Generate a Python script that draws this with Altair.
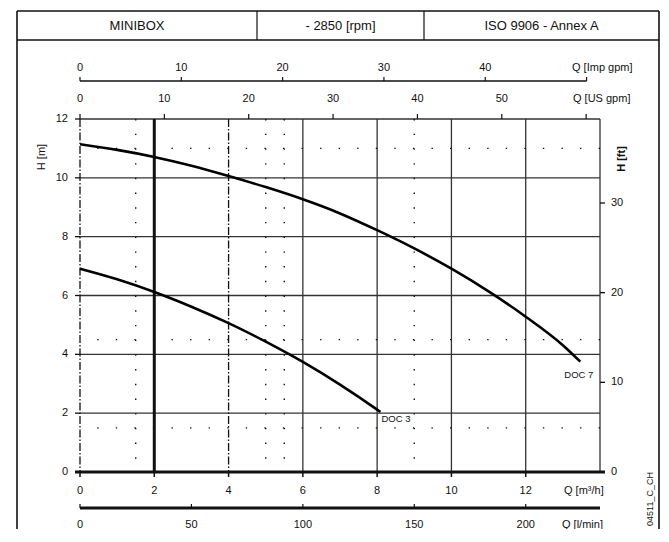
import altair as alt
import pandas as pd

# ---------------- data ----------------
series_names = ["DOC 7", "DOC 3"]
doc7_q = [0, 1, 2, 3, 4, 5, 6, 7, 8, 9, 10, 11, 12, 13, 13.47]
doc7_h = [11.14, 10.95, 10.71, 10.41, 10.06, 9.685, 9.27, 8.79, 8.22, 7.60, 6.91, 6.14, 5.28, 4.31, 3.75]
doc3_q = [0, 1, 2, 3, 4, 5, 6, 7, 8, 8.09]
doc3_h = [6.91, 6.55, 6.12, 5.62, 5.06, 4.43, 3.74, 2.97, 2.12, 2.04]

q_m3h_ticks = [0, 2, 4, 6, 8, 10, 12]
q_lmin_ticks = [0, 50, 100, 150, 200]
q_usgpm_ticks = [0, 10, 20, 30, 40, 50, 60]
q_usgpm_labels = [0, 10, 20, 30, 40, 50]
q_impgpm_ticks = [0, 10, 20, 30, 40, 50]
q_impgpm_labels = [0, 10, 20, 30, 40]
h_m_ticks = [0, 2, 4, 6, 8, 10, 12]
h_ft_ticks = [0, 10, 20, 30]

grid_q_thin = [6, 8, 10, 12, 14]
grid_q_thick = [2]
grid_q_dashdot = [0, 4]
grid_h_thin = [2, 4, 6, 8, 10, 12]
grid_h_thick = [0]
dots_q = [1.5, 5, 5.5, 9]
dots_h = [11, 4.5, 1.5]

header_texts = ["MINIBOX", "- 2850 [rpm]", "ISO 9906 - Annex A"]
unit_m3h = "Q [m³/h]"
unit_lmin = "Q [l/min]"
unit_usgpm = "Q [US gpm]"
unit_impgpm = "Q [Imp gpm]"
title_hm = "H [m]"
title_hft = "H [ft]"
code_text = "04511_C_CH"

M3H_PER_LMIN = 0.06
M3H_PER_USGPM = 0.227125
M3H_PER_IMPGPM = 0.272765
M_PER_FT = 0.3048

# ---------------- layout ----------------
W, H = 520, 353
PAD = {"left": 72, "top": 111, "right": 61, "bottom": 57}
BOTTOM = H + PAD["bottom"]
FONT = "Liberation Sans"
INK = "#111"
GRID = "#333"

xs = alt.Scale(domain=[0, 14], nice=False, zero=False)
ys = alt.Scale(domain=[0, 12], nice=False, zero=False)


def X(f="q"):
    return alt.X(f"{f}:Q", scale=xs, axis=None)


def Y(f="h"):
    return alt.Y(f"{f}:Q", scale=ys, axis=None)


one = pd.DataFrame({"a": [0]})
layers = []

curves = pd.concat([
    pd.DataFrame({"q": doc7_q, "h": doc7_h, "s": series_names[0]}),
    pd.DataFrame({"q": doc3_q, "h": doc3_h, "s": series_names[1]}),
])

# grid
layers.append(alt.Chart(pd.DataFrame({"q": grid_q_thin})).mark_rule(color=GRID, strokeWidth=1.3).encode(x=X()))
layers.append(alt.Chart(pd.DataFrame({"h": grid_h_thin})).mark_rule(color=GRID, strokeWidth=1.3).encode(y=Y()))
layers.append(alt.Chart(pd.DataFrame({"q": grid_q_dashdot})).mark_rule(color=INK, strokeWidth=1.3, strokeDash=[8, 2, 1.5, 2]).encode(x=X()))
layers.append(alt.Chart(pd.DataFrame({"q": dots_q})).mark_rule(color=INK, strokeWidth=1.4, strokeDash=[1.4, 13.31]).encode(x=X()))
layers.append(alt.Chart(pd.DataFrame({"h": dots_h})).mark_rule(color=INK, strokeWidth=1.4, strokeDash=[1.4, 17.17]).encode(y=Y()))
layers.append(alt.Chart(pd.DataFrame({"q": grid_q_thick})).mark_rule(color=INK, strokeWidth=3).encode(x=X()))

# bottom m3/h axis
layers.append(alt.Chart(pd.DataFrame({"h": grid_h_thick})).mark_rule(color=INK, strokeWidth=3).encode(
    y=Y(), x=alt.value(-5), x2=alt.value(W + 5)))
layers.append(alt.Chart(pd.DataFrame({"q": q_m3h_ticks})).mark_rule(color=INK, strokeWidth=1.5).encode(
    x=X(), y=alt.value(H), y2=alt.value(H + 5)))
layers.append(alt.Chart(pd.DataFrame({"q": q_m3h_ticks})).mark_text(font=FONT, fontSize=11, color=INK, baseline="middle").encode(
    x=X(), y=alt.value(372), text="q:Q"))
layers.append(alt.Chart(one).mark_text(font=FONT, fontSize=11, color=INK, align="left", baseline="middle").encode(
    x=alt.value(484), y=alt.value(372), text=alt.value(unit_m3h)))

# l/min axis
lmin = pd.DataFrame({"v": q_lmin_ticks})
layers.append(alt.Chart(one).mark_rule(color=INK, strokeWidth=3).encode(
    x=alt.value(0), x2=alt.value(W), y=alt.value(389)))
layers.append(alt.Chart(lmin).transform_calculate(q=f"datum.v * {M3H_PER_LMIN}").mark_rule(color=INK, strokeWidth=1.2).encode(
    x=X(), y=alt.value(385), y2=alt.value(389)))
layers.append(alt.Chart(lmin).transform_calculate(q=f"datum.v * {M3H_PER_LMIN}").mark_text(font=FONT, fontSize=11, color=INK, baseline="middle").encode(
    x=X(), y=alt.value(406), text="v:Q"))
layers.append(alt.Chart(one).mark_text(font=FONT, fontSize=11, color=INK, align="left", baseline="middle").encode(
    x=alt.value(482), y=alt.value(406), text=alt.value(unit_lmin)))

# US gpm axis (top of plot)
layers.append(alt.Chart(pd.DataFrame({"v": q_usgpm_ticks})).transform_calculate(q=f"datum.v * {M3H_PER_USGPM}").mark_rule(color=INK, strokeWidth=1.2).encode(
    x=X(), y=alt.value(-5), y2=alt.value(0)))
layers.append(alt.Chart(pd.DataFrame({"v": q_usgpm_labels})).transform_calculate(q=f"datum.v * {M3H_PER_USGPM}").mark_text(font=FONT, fontSize=11, color=INK, baseline="middle").encode(
    x=X(), y=alt.value(-20), text="v:Q"))
layers.append(alt.Chart(one).mark_text(font=FONT, fontSize=11, color=INK, align="left", baseline="middle").encode(
    x=alt.value(493), y=alt.value(-20), text=alt.value(unit_usgpm)))

# Imp gpm axis
layers.append(alt.Chart(pd.DataFrame({"v": [0, q_impgpm_ticks[-1]]})).transform_calculate(q=f"datum.v * {M3H_PER_IMPGPM}").mark_line(color=INK, strokeWidth=1.5).encode(
    x=X(), y=alt.value(-38)))
layers.append(alt.Chart(pd.DataFrame({"v": q_impgpm_ticks})).transform_calculate(q=f"datum.v * {M3H_PER_IMPGPM}").mark_rule(color=INK, strokeWidth=1.2).encode(
    x=X(), y=alt.value(-42), y2=alt.value(-38)))
layers.append(alt.Chart(pd.DataFrame({"v": q_impgpm_labels})).transform_calculate(q=f"datum.v * {M3H_PER_IMPGPM}").mark_text(font=FONT, fontSize=11, color=INK, baseline="middle").encode(
    x=X(), y=alt.value(-51.5), text="v:Q"))
layers.append(alt.Chart(one).mark_text(font=FONT, fontSize=11, color=INK, align="left", baseline="middle").encode(
    x=alt.value(492), y=alt.value(-51.5), text=alt.value(unit_impgpm)))

# left H [m] axis
layers.append(alt.Chart(pd.DataFrame({"h": h_m_ticks})).mark_rule(color=INK, strokeWidth=1.3).encode(
    y=Y(), x=alt.value(-5), x2=alt.value(0)))
layers.append(alt.Chart(pd.DataFrame({"h": h_m_ticks})).mark_text(font=FONT, fontSize=11, color=INK, align="right", baseline="middle").encode(
    y=Y(), x=alt.value(-12), text="h:Q"))
layers.append(alt.Chart(one).mark_text(font=FONT, fontSize=11, color=INK, angle=270, baseline="middle").encode(
    x=alt.value(-38), y=alt.value(38), text=alt.value(title_hm)))

# right H [ft] axis
hft = pd.DataFrame({"v": h_ft_ticks})
layers.append(alt.Chart(hft).transform_calculate(h=f"datum.v * {M_PER_FT}").mark_rule(color=INK, strokeWidth=1.3).encode(
    y=Y(), x=alt.value(W), x2=alt.value(W + 5)))
layers.append(alt.Chart(hft).transform_calculate(h=f"datum.v * {M_PER_FT}").mark_text(font=FONT, fontSize=11, color=INK, align="left", baseline="middle").encode(
    y=Y(), x=alt.value(W + 11), text="v:Q"))
layers.append(alt.Chart(one).mark_text(font=FONT, fontSize=11, fontWeight="bold", color=INK, angle=270, baseline="middle").encode(
    x=alt.value(W + 22), y=alt.value(40), text=alt.value(title_hft)))

# curves and their labels
layers.append(alt.Chart(curves).mark_line(color="#000", strokeWidth=2.6, interpolate="monotone").encode(
    x=X(), y=Y(), detail="s:N"))
end7 = pd.DataFrame({"q": [doc7_q[-1]], "h": [doc7_h[-1]], "t": [series_names[0]]})
end3 = pd.DataFrame({"q": [doc3_q[-1]], "h": [doc3_h[-1]], "t": [series_names[1]]})
layers.append(alt.Chart(end7).mark_text(font=FONT, fontSize=9.5, color=INK, align="left", baseline="middle", dx=-16, dy=13).encode(
    x=X(), y=Y(), text="t:N"))
layers.append(alt.Chart(end3).mark_text(font=FONT, fontSize=9.5, color=INK, align="left", baseline="middle", dx=1, dy=7).encode(
    x=X(), y=Y(), text="t:N"))

# header and frame
FL, FR, FT, FB = -63, 579, -108, -79
layers.append(alt.Chart(one).mark_rule(color=INK, strokeWidth=1.6).encode(x=alt.value(FL), y=alt.value(FT), y2=alt.value(BOTTOM)))
layers.append(alt.Chart(one).mark_rule(color=INK, strokeWidth=1.6).encode(x=alt.value(FR), y=alt.value(FT), y2=alt.value(BOTTOM)))
layers.append(alt.Chart(one).mark_rule(color=INK, strokeWidth=1.5).encode(y=alt.value(FT), x=alt.value(FL), x2=alt.value(FR)))
layers.append(alt.Chart(one).mark_rule(color=INK, strokeWidth=1.5).encode(y=alt.value(FB), x=alt.value(FL), x2=alt.value(FR)))
layers.append(alt.Chart(one).mark_rule(color=INK, strokeWidth=1.2).encode(x=alt.value(177), y=alt.value(FT), y2=alt.value(FB)))
layers.append(alt.Chart(one).mark_rule(color=INK, strokeWidth=1.2).encode(x=alt.value(344), y=alt.value(FT), y2=alt.value(FB)))
for txt, cx in zip(header_texts, [57, 260.5, 461.5]):
    layers.append(alt.Chart(one).mark_text(font=FONT, fontSize=13, color=INK, baseline="middle").encode(
        x=alt.value(cx), y=alt.value(-93), text=alt.value(txt)))

layers.append(alt.Chart(one).mark_text(font=FONT, fontSize=9, color=INK, angle=270, baseline="middle").encode(
    x=alt.value(569.5), y=alt.value(380), text=alt.value(code_text)))

chart = alt.layer(*layers).properties(
    width=W, height=H,
    autosize=alt.AutoSizeParams(type="none"),
    padding=PAD,
    background="white",
).configure_view(stroke=None)

chart.save("out.html", embed_options={"renderer": "svg", "actions": False})
